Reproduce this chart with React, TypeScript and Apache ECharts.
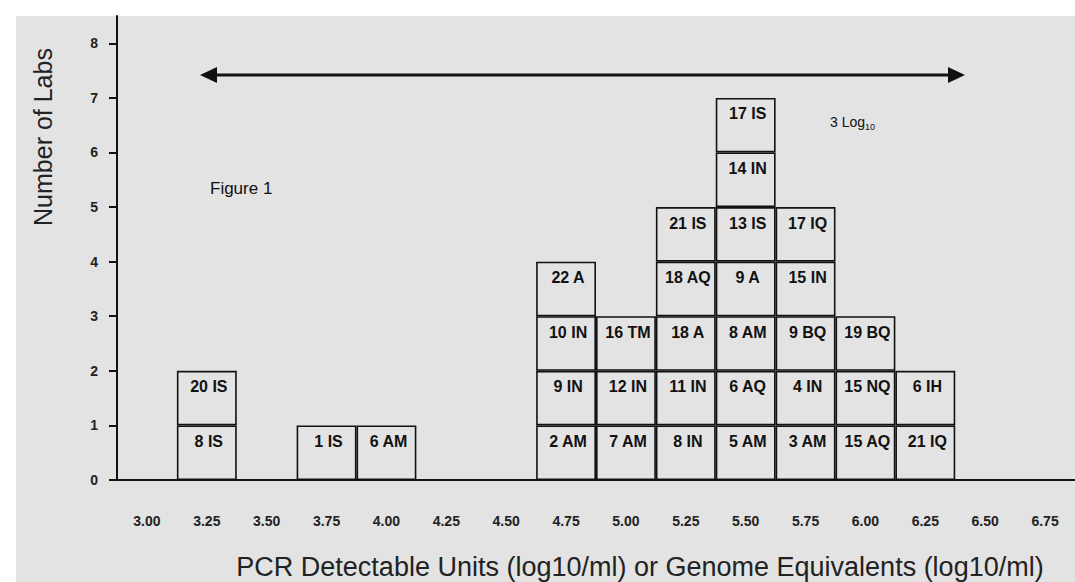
import React, { useEffect, useRef } from 'react';
import * as echarts from 'echarts';

// x-axis bins (log10/ml)
const categories = ['3.00', '3.25', '3.50', '3.75', '4.00', '4.25', '4.50', '4.75', '5.00', '5.25', '5.50', '5.75', '6.00', '6.25', '6.50', '6.75'];

// labs falling in each bin, listed bottom to top
const labs300: string[] = [];
const labs325 = ['8 IS', '20 IS'];
const labs350: string[] = [];
const labs375 = ['1 IS'];
const labs400 = ['6 AM'];
const labs425: string[] = [];
const labs450: string[] = [];
const labs475 = ['2 AM', '9 IN', '10 IN', '22 A'];
const labs500 = ['7 AM', '12 IN', '16 TM'];
const labs525 = ['8 IN', '11 IN', '18 A', '18 AQ', '21 IS'];
const labs550 = ['5 AM', '6 AQ', '8 AM', '9 A', '13 IS', '14 IN', '17 IS'];
const labs575 = ['3 AM', '4 IN', '9 BQ', '15 IN', '17 IQ'];
const labs600 = ['15 AQ', '15 NQ', '19 BQ'];
const labs625 = ['21 IQ', '6 IH'];
const labs650: string[] = [];
const labs675: string[] = [];

const yTicks = [0, 1, 2, 3, 4, 5, 6, 7, 8];

const binLabs = [labs300, labs325, labs350, labs375, labs400, labs425, labs450, labs475, labs500, labs525, labs550, labs575, labs600, labs625, labs650, labs675];

const BG = '#e3e3e3';
const INK = '#111111';
const FONT = 'Liberation Sans, Arial, sans-serif';

export default function App() {
  const ref = useRef<HTMLDivElement>(null);
  useEffect(() => {
    if (!ref.current) return;
    const chart = echarts.init(ref.current, null, { renderer: 'svg' });
    const levels = Math.max(...binLabs.map((l) => l.length));
    const series: any[] = [];
    for (let k = 0; k < levels; k++) {
      series.push({
        type: 'bar',
        stack: 'labs',
        barCategoryGap: '0%',
        barGap: '0%',
        data: binLabs.map((l) => (k < l.length ? 1 : '-')),
        itemStyle: { color: BG, borderColor: INK, borderWidth: 1.6 },
        label: {
          show: true,
          position: 'insideTop',
          distance: 8,
          offset: [2, 0],
          fontSize: 16,
          fontWeight: 'bold',
          fontFamily: FONT,
          color: INK,
          formatter: (p: any) => binLabs[p.dataIndex][k] || '',
        },
        silent: true,
      });
    }
    chart.setOption({
      animation: false,
      backgroundColor: '#ffffff',
      grid: { left: 117, top: 16, width: 960, height: 464, containLabel: false },
      xAxis: {
        type: 'category',
        data: categories,
        axisTick: { show: false },
        axisLine: { lineStyle: { color: INK, width: 2 } },
        axisLabel: {
          margin: 34,
          fontSize: 14,
          fontWeight: 'bold',
          fontFamily: FONT,
          color: '#222',
        },
        splitLine: { show: false },
      },
      yAxis: {
        type: 'value',
        min: 0,
        max: 8.5,
        interval: 1,
        axisLine: { show: true, lineStyle: { color: INK, width: 2 } },
        axisTick: { show: true, length: 8, lineStyle: { color: INK, width: 2 }, customValues: yTicks },
        axisLabel: {
          margin: 19,
          fontSize: 14,
          fontWeight: 'bold',
          fontFamily: FONT,
          color: '#222',
          customValues: yTicks,
        },
        splitLine: { show: false },
      },
      graphic: [
        { type: 'rect', z: -10, silent: true, shape: { x: 16, y: 16, width: 1075, height: 582 }, style: { fill: BG } },
        {
          type: 'text', x: 43, y: 137, rotation: Math.PI / 2, silent: true,
          style: { text: 'Number of Labs', fontSize: 25, fontFamily: FONT, fill: '#222', align: 'center', verticalAlign: 'middle' },
        },
        {
          type: 'text', x: 640, y: 567, silent: true,
          style: { text: 'PCR Detectable Units (log10/ml) or Genome Equivalents (log10/ml)', fontSize: 27, fontFamily: FONT, fill: '#222', align: 'center', verticalAlign: 'middle' },
        },
        { type: 'line', silent: true, shape: { x1: 214, y1: 75, x2: 951, y2: 75 }, style: { stroke: INK, lineWidth: 3 } },
        { type: 'polygon', silent: true, shape: { points: [[200, 75], [217, 67], [217, 83]] }, style: { fill: INK } },
        { type: 'polygon', silent: true, shape: { points: [[965, 75], [948, 67], [948, 83]] }, style: { fill: INK } },
        {
          type: 'text', x: 210, y: 188, silent: true,
          style: { text: 'Figure 1', fontSize: 17, fontFamily: FONT, fill: INK, align: 'left', verticalAlign: 'middle' },
        },
        {
          type: 'text', x: 830, y: 122, silent: true,
          style: {
            text: '{a|3 Log}{b|10}',
            align: 'left',
            verticalAlign: 'middle',
            rich: {
              a: { fontSize: 14, fontFamily: FONT, fill: INK, lineHeight: 18, verticalAlign: 'middle' },
              b: { fontSize: 9, fontFamily: FONT, fill: INK, lineHeight: 9, verticalAlign: 'bottom', padding: [6, 0, 0, 0] },
            },
          },
        },
      ],
      series,
    });
    return () => chart.dispose();
  }, []);
  return <div ref={ref} style={{ position: 'fixed', left: 0, top: 0, width: 1075, height: 582 }} />;
}
